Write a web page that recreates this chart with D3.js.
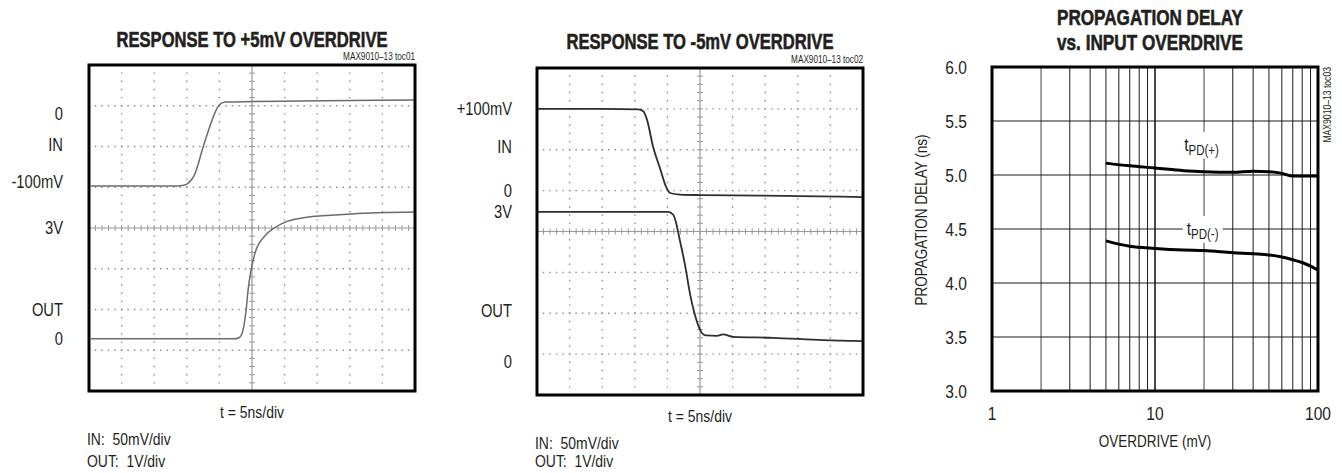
<!DOCTYPE html>
<html>
<head>
<meta charset="utf-8">
<script src="https://cdn.jsdelivr.net/npm/d3@7"></script>
<style>
  body { margin: 0; background: #fff; }
  svg text { font-family: "Liberation Sans", Arial, sans-serif; fill: #231f20; }
</style>
</head>
<body>
<div id="chart"></div>
<script>
var width = 1342,
    height = 473;

// ---- data ----
var scopeTitles = ['RESPONSE TO +5mV OVERDRIVE', 'RESPONSE TO -5mV OVERDRIVE'];
var tocLabels = ['MAX9010\u201313 toc01', 'MAX9010\u201313 toc02', 'MAX9010\u201313 toc03'];
var timeLabel = 't = 5ns/div';
var scaleNotes = ['IN:  50mV/div', 'OUT:  1V/div'];
var timeDomain = [-25, 25];           // ns, 10 div at 5ns/div
var levelLabels1 = ['0', 'IN', '-100mV', '3V', 'OUT', '0'];
var levelLabels2 = ['+100mV', 'IN', '0', '3V', 'OUT', '0'];

// +5mV overdrive: IN (mV), OUT (V) against time (ns)
var in1Time = [-24.7, -18.4, -12.3, -10.4, -9.7, -8.9, -7.4, -6.1, -5.7, -5.1, -4.1, 0, 7.7, 15.3, 25];
var in1Mv   = [-100, -100, -100, -99, -96, -88, -51, -21, -13, -4, 0, 0.6, 1.2, 1.8, 2.4];
var out1Time = [-24.7, -6.9, -2.8, -2.0, -1.5, -0.9, -0.6, -0.15, 0.46, 1.84, 3.4, 5.1, 7.7, 12.7, 15.3, 25];
var out1V    = [0, 0, 0, 0.03, 0.16, 0.78, 1.32, 1.86, 2.32, 2.76, 3.0, 3.16, 3.27, 3.35, 3.38, 3.43];

// -5mV overdrive
var in2Time = [-25, -15.3, -9.5, -8.7, -8.1, -7.2, -6.1, -5.2, -4.6, -3.1, 0, 9.2, 15.3, 25];
var in2Mv   = [100, 100, 99.4, 97, 86, 54, 27, 5, -2.4, -4.3, -4.9, -5.5, -6.1, -7.3];
var out2Time = [-25, -12.3, -4.9, -4.1, -3.7, -3.1, -2.3, -1.5, -0.9, -0.3, 0.3, 0.9, 2.6, 3.5, 5.1, 11.2, 18.9, 25];
var out2V    = [3.0, 3.0, 3.0, 2.94, 2.79, 2.41, 1.89, 1.26, 0.90, 0.63, 0.46, 0.41, 0.40, 0.43, 0.38, 0.36, 0.31, 0.29];

// propagation delay vs overdrive
var pdTitle = ['PROPAGATION DELAY', 'vs. INPUT OVERDRIVE'];
var overdrive = [5, 7, 10, 15, 20, 30, 40, 50, 60, 70, 80, 100];
var tpdPlus  = [5.11, 5.085, 5.065, 5.04, 5.03, 5.025, 5.035, 5.03, 5.015, 4.99, 4.99, 4.99];
var tpdMinus = [4.39, 4.34, 4.32, 4.305, 4.30, 4.28, 4.27, 4.26, 4.24, 4.215, 4.19, 4.12];
var delayTicks = [3.0, 3.5, 4.0, 4.5, 5.0, 5.5, 6.0];
var overdriveTicks = [1, 10, 100];

var svg = d3.select('#chart').append('svg')
  .attr('width', width)
  .attr('height', height);

// condensed text: Liberation Sans squeezed to narrow width
function narrow(x, y, extra) {
  return 'translate(' + x + ',' + y + ')' + (extra || '') + ' scale(0.82,1)';
}

// ---- scope shots ----
var scopes = [
  { left: 89, top: 65, w: 326, h: 326, title: scopeTitles[0], titleY: 47, titleLen: 271,
    toc: tocLabels[0], labels: levelLabels1, labelDiv: [2.82, 2.04, 1.13, 0, -1.99, -2.72], labelX: 63,
    inT: in1Time, inV: in1Mv, inCal: [[-100, 0], [1.03, 3.09]],
    outT: out1Time, outV: out1V, outCal: [[0, 3], [-2.72, 0]],
    color: '#6b6b6b', lw: 1.5 },
  { left: 537, top: 68, w: 326, h: 327, title: scopeTitles[1], titleY: 49, titleLen: 267,
    toc: tocLabels[1], labels: levelLabels2, labelDiv: [3.0, 2.07, 1.01, 0.48, -1.94, -3.17], labelX: 512,
    inT: in2Time, inV: in2Mv, inCal: [[0, 100], [0.99, 3.0]],
    outT: out2Time, outV: out2V, outCal: [[0, 3], [-3.02, 0.48]],
    color: '#2e2e2e', lw: 1.8 }
];

scopes.forEach(function(p) {
  var g = svg.append('g');
  var x = d3.scaleLinear().domain(timeDomain).range([p.left, p.left + p.w]);
  var y = d3.scaleLinear().domain([-4, 4]).range([p.top + p.h, p.top]);
  var xStep = (p.w / 10) / 5,
      yStep = (p.h / 8) / 5;

  // dotted graticule
  g.selectAll('.vdot')
    .data(d3.range(-20, 25, 5).filter(function(d) { return d !== 0; }))
    .enter().append('line')
    .attr('x1', function(d) { return x(d); })
    .attr('x2', function(d) { return x(d); })
    .attr('y1', p.top - 0.7)
    .attr('y2', p.top + p.h)
    .attr('stroke', '#8a8a8a')
    .attr('stroke-width', 1.4)
    .attr('stroke-dasharray', '1.4,' + (yStep - 1.4));

  g.selectAll('.hdot')
    .data(d3.range(-3, 4).filter(function(d) { return d !== 0; }))
    .enter().append('line')
    .attr('y1', function(d) { return y(d); })
    .attr('y2', function(d) { return y(d); })
    .attr('x1', p.left - 0.7)
    .attr('x2', p.left + p.w)
    .attr('stroke', '#8a8a8a')
    .attr('stroke-width', 1.4)
    .attr('stroke-dasharray', '1.4,' + (xStep - 1.4));

  // centre axes with minor ticks
  g.append('line')
    .attr('x1', p.left).attr('x2', p.left + p.w)
    .attr('y1', y(0)).attr('y2', y(0))
    .attr('stroke', '#9a9a9a').attr('stroke-width', 1.2);
  g.append('line')
    .attr('x1', x(0)).attr('x2', x(0))
    .attr('y1', p.top).attr('y2', p.top + p.h)
    .attr('stroke', '#9a9a9a').attr('stroke-width', 1.2);

  g.selectAll('.xtick')
    .data(d3.range(-24, 25, 1))
    .enter().append('line')
    .attr('x1', function(d) { return x(d); })
    .attr('x2', function(d) { return x(d); })
    .attr('y1', y(0) - 3)
    .attr('y2', y(0) + 3)
    .attr('stroke', '#9a9a9a')
    .attr('stroke-width', 1);
  g.selectAll('.ytick')
    .data(d3.range(-19, 20, 1).map(function(d) { return d / 5; }))
    .enter().append('line')
    .attr('x1', x(0) - 3)
    .attr('x2', x(0) + 3)
    .attr('y1', function(d) { return y(d); })
    .attr('y2', function(d) { return y(d); })
    .attr('stroke', '#9a9a9a')
    .attr('stroke-width', 1);

  // traces
  var inScale = d3.scaleLinear().domain(p.inCal[0]).range(p.inCal[1]);
  var outScale = d3.scaleLinear().domain(p.outCal[0]).range(p.outCal[1]);

  var inLine = d3.line()
    .x(function(d, i) { return x(p.inT[i]); })
    .y(function(d) { return y(inScale(d)); })
    .curve(d3.curveMonotoneX);
  var outLine = d3.line()
    .x(function(d, i) { return x(p.outT[i]); })
    .y(function(d) { return y(outScale(d)); })
    .curve(d3.curveMonotoneX);

  g.append('path')
    .attr('d', inLine(p.inV))
    .attr('fill', 'none')
    .attr('stroke', p.color)
    .attr('stroke-width', p.lw);
  g.append('path')
    .attr('d', outLine(p.outV))
    .attr('fill', 'none')
    .attr('stroke', p.color)
    .attr('stroke-width', p.lw);

  // frame
  g.append('rect')
    .attr('x', p.left).attr('y', p.top)
    .attr('width', p.w).attr('height', p.h)
    .attr('fill', 'none')
    .attr('stroke', '#000')
    .attr('stroke-width', 3);

  // level labels
  g.selectAll('.lvl')
    .data(p.labels)
    .enter().append('text')
    .attr('transform', function(d, i) { return narrow(p.labelX, y(p.labelDiv[i])); })
    .attr('dy', '0.36em')
    .attr('text-anchor', 'end')
    .attr('font-size', 18)
    .text(function(d) { return d; });

  // title + part number
  g.append('text')
    .attr('x', p.left + p.w / 2)
    .attr('y', p.titleY)
    .attr('text-anchor', 'middle')
    .attr('font-size', 22.5)
    .attr('font-weight', 'bold')
    .attr('stroke', '#231f20')
    .attr('stroke-width', 0.6)
    .attr('textLength', p.titleLen)
    .attr('lengthAdjust', 'spacingAndGlyphs')
    .text(p.title);
  g.append('text')
    .attr('transform', narrow(p.left + p.w, p.top - 5))
    .attr('text-anchor', 'end')
    .attr('font-size', 10)
    .attr('fill', '#333')
    .text(p.toc);

  g.append('text')
    .attr('transform', narrow(p.left + p.w / 2, p.top + p.h + 27))
    .attr('text-anchor', 'middle')
    .attr('font-size', 17)
    .text(timeLabel);
  g.selectAll('.note')
    .data(scaleNotes)
    .enter().append('text')
    .attr('transform', function(d, i) { return narrow(p.left - 2, Math.min(p.top + p.h + 54 + i * 22, 467)); })
    .attr('font-size', 17)
    .style('white-space', 'pre')
    .text(function(d) { return d; });
});

// ---- propagation delay chart ----
var pd = svg.append('g');
var pdLeft = 992, pdRight = 1318, pdTop = 67, pdBottom = 391;
var xLog = d3.scaleLog().domain([1, 100]).range([pdLeft, pdRight]);
var yDelay = d3.scaleLinear().domain([3, 6]).range([pdBottom, pdTop]);

pd.selectAll('.vgrid')
  .data(xLog.ticks().filter(function(d) { return d > 1 && d < 100; }))
  .enter().append('line')
  .attr('x1', function(d) { return xLog(d); })
  .attr('x2', function(d) { return xLog(d); })
  .attr('y1', pdTop)
  .attr('y2', pdBottom)
  .attr('stroke', function(d) { return (d === 2 || d === 20) ? '#808080' : '#1a1a1a'; })
  .attr('stroke-width', function(d) { return d === 10 ? 1.6 : (d === 2 || d === 20) ? 1.5 : 1; });

pd.selectAll('.hgrid')
  .data(delayTicks.slice(1, -1))
  .enter().append('line')
  .attr('x1', pdLeft)
  .attr('x2', pdRight)
  .attr('y1', function(d) { return yDelay(d); })
  .attr('y2', function(d) { return yDelay(d); })
  .attr('stroke', '#1a1a1a')
  .attr('stroke-width', 1);

var delayLine = d3.line()
  .x(function(d, i) { return xLog(overdrive[i]); })
  .y(function(d) { return yDelay(d); })
  .curve(d3.curveMonotoneX);

[tpdPlus, tpdMinus].forEach(function(s) {
  pd.append('path')
    .attr('d', delayLine(s))
    .attr('fill', 'none')
    .attr('stroke', '#000')
    .attr('stroke-width', 3);
});

// curve labels on white patches
var curveLabels = [
  { sub: 'PD(+)', x: 19.3, y: 5.22 },
  { sub: 'PD(-)', x: 19.6, y: 4.44 }
];
curveLabels.forEach(function(c) {
  var lg = pd.append('g').attr('transform', narrow(xLog(c.x), yDelay(c.y)));
  var t = lg.append('text')
    .attr('text-anchor', 'middle')
    .attr('font-size', 19);
  t.append('tspan').text('t');
  t.append('tspan').attr('font-size', 14).attr('dy', 4).text(c.sub);
  var b = t.node().getBBox();
  lg.insert('rect', 'text')
    .attr('x', b.x - 5)
    .attr('y', b.y - 2)
    .attr('width', b.width + 10)
    .attr('height', b.height + 2)
    .attr('fill', '#fff');
});

pd.append('rect')
  .attr('x', pdLeft).attr('y', pdTop)
  .attr('width', pdRight - pdLeft).attr('height', pdBottom - pdTop)
  .attr('fill', 'none')
  .attr('stroke', '#000')
  .attr('stroke-width', 3);

pd.selectAll('.ylab')
  .data(delayTicks)
  .enter().append('text')
  .attr('transform', function(d) { return narrow(pdLeft - 25, yDelay(d)); })
  .attr('dy', '0.36em')
  .attr('text-anchor', 'end')
  .attr('font-size', 19)
  .text(function(d) { return d3.format('.1f')(d); });

pd.selectAll('.xlab')
  .data(overdriveTicks)
  .enter().append('text')
  .attr('transform', function(d) { return narrow(xLog(d), pdBottom + 29); })
  .attr('text-anchor', 'middle')
  .attr('font-size', 19)
  .text(function(d) { return d; });

pd.append('text')
  .attr('transform', narrow((pdLeft + pdRight) / 2, pdBottom + 56))
  .attr('text-anchor', 'middle')
  .attr('font-size', 16.5)
  .text('OVERDRIVE (mV)');

pd.append('text')
  .attr('transform', narrow(927, yDelay(4.5) - 9, ' rotate(-90)'))
  .attr('text-anchor', 'middle')
  .attr('font-size', 16.5)
  .text('PROPAGATION DELAY (ns)');

pd.selectAll('.ptitle')
  .data(pdTitle)
  .enter().append('text')
  .attr('x', 1150)
  .attr('y', function(d, i) { return 25 + i * 25; })
  .attr('text-anchor', 'middle')
  .attr('font-size', 22.5)
  .attr('font-weight', 'bold')
  .attr('stroke', '#231f20')
  .attr('stroke-width', 0.6)
  .attr('textLength', 186)
  .attr('lengthAdjust', 'spacingAndGlyphs')
  .text(function(d) { return d; });

pd.append('text')
  .attr('transform', narrow(1331, pdTop, ' rotate(-90)'))
  .attr('text-anchor', 'end')
  .attr('font-size', 10.5)
  .attr('fill', '#333')
  .text(tocLabels[2]);
</script>
</body>
</html>
